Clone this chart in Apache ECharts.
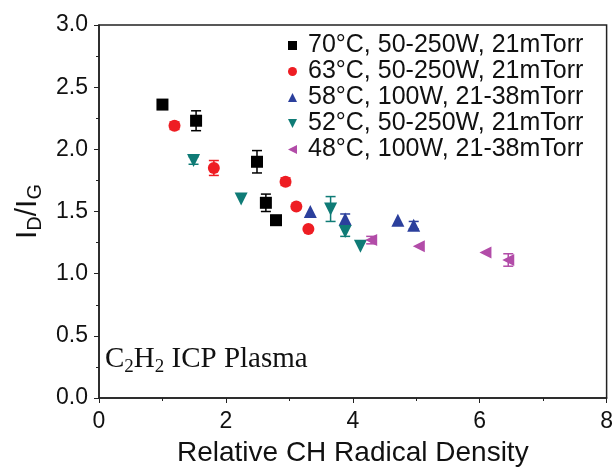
<!DOCTYPE html>
<html>
<head>
<meta charset="utf-8">
<script src="https://cdn.jsdelivr.net/npm/echarts@6/dist/echarts.min.js"></script>
<style>
  html, body { margin: 0; padding: 0; background: #fff; }
  #chart_density { width: 616px; height: 472px; }
</style>
</head>
<body>
<div id="chart_density"></div>
<script>
// series names (legend)
const seriesNames = [
  "70°C, 50-250W, 21mTorr",
  "63°C, 50-250W, 21mTorr",
  "58°C, 100W, 21-38mTorr",
  "52°C, 50-250W, 21mTorr",
  "48°C, 100W, 21-38mTorr",
];

// relative CH radical density (x), ID/IG (y), error (+/-)
const x70 = [1.0, 1.53, 2.49, 2.63, 2.79];
const y70 = [2.36, 2.23, 1.90, 1.57, 1.43];
const e70 = [0, 0.08, 0.09, 0.07, 0];

const x63 = [1.19, 1.81, 2.94, 3.11, 3.30];
const y63 = [2.19, 1.85, 1.74, 1.54, 1.36];
const e63 = [0.03, 0.06, 0.03, 0, 0];

const x58 = [3.33, 3.88, 4.71, 4.96];
const y58 = [1.50, 1.44, 1.43, 1.39];
const e58 = [0, 0.04, 0, 0.03];

const x52 = [1.49, 2.24, 3.65, 3.88, 4.12];
const y52 = [1.91, 1.60, 1.52, 1.34, 1.22];
const e52 = [0.03, 0, 0.1, 0.04, 0];

const x48 = [4.29, 5.04, 6.09, 6.45];
const y48 = [1.27, 1.22, 1.17, 1.11];
const e48 = [0.03, 0, 0, 0.05];

const colors = ["#000000", "#ee1d23", "#2b3f9c", "#0f7b76", "#b24ca8"];
const symbols = [
  "rect",
  "circle",
  "triangle",
  "path://M0,0 L10,0 L5,10 Z",
  "path://M10,0 L10,10 L0,5 Z",
];
const sizes = [12, 12, 13, 13, 12];

const groups = [
  [x70, y70, e70],
  [x63, y63, e63],
  [x58, y58, e58],
  [x52, y52, e52],
  [x48, y48, e48],
];

function getErrSeries(idx) {
  const [xs, ys, es] = groups[idx];
  const data = [];
  xs.forEach((x, i) => {
    if (es[i] > 0) data.push([x, ys[i] - es[i], ys[i] + es[i]]);
  });
  return {
    type: "custom",
    name: seriesNames[idx] + " err",
    z: 1,
    silent: true,
    data: data,
    renderItem: (params, api) => {
      const lo = api.coord([api.value(0), api.value(1)]);
      const hi = api.coord([api.value(0), api.value(2)]);
      const w = 5;
      const style = { stroke: colors[idx], lineWidth: 1.5 };
      return {
        type: "group",
        children: [
          { type: "line", shape: { x1: lo[0], y1: lo[1], x2: hi[0], y2: hi[1] }, style },
          { type: "line", shape: { x1: lo[0] - w, y1: lo[1], x2: lo[0] + w, y2: lo[1] }, style },
          { type: "line", shape: { x1: hi[0] - w, y1: hi[1], x2: hi[0] + w, y2: hi[1] }, style },
        ],
      };
    },
  };
}

function getScatterSeries(idx) {
  const [xs, ys] = groups[idx];
  return {
    type: "scatter",
    name: seriesNames[idx],
    z: 3,
    symbol: symbols[idx],
    symbolSize: sizes[idx],
    itemStyle: { color: colors[idx], opacity: 1 },
    data: xs.map((x, i) => [x, ys[i]]),
  };
}

const seriesArr = [];
seriesNames.forEach((n, i) => seriesArr.push(getErrSeries(i)));
seriesNames.forEach((n, i) => seriesArr.push(getScatterSeries(i)));

const axisFont = "Liberation Sans, Arial, sans-serif";

const option = {
  animation: false,
  color: colors,
  textStyle: { fontFamily: axisFont },
  grid: {
    left: 99,
    right: 6,
    top: 25,
    bottom: 66,
    show: true,
    borderColor: "#222",
    borderWidth: 1.5,
  },
  legend: {
    data: seriesNames,
    orient: "vertical",
    left: 283,
    top: 28,
    itemWidth: 9,
    itemHeight: 9,
    itemGap: 1,
    textStyle: { fontSize: 25, color: "#111", fontFamily: axisFont, padding: [0, 0, 0, 6] },
  },
  xAxis: {
    type: "value",
    min: 0,
    max: 8,
    interval: 2,
    name: "Relative CH Radical Density",
    nameLocation: "middle",
    nameGap: 41,
    nameTextStyle: { fontSize: 28, color: "#111" },
    axisLine: { lineStyle: { color: "#222", width: 1.5 } },
    axisTick: { length: 5, lineStyle: { color: "#222" } },
    minorTick: { show: true, splitNumber: 2, length: 3, lineStyle: { color: "#222" } },
    splitLine: { show: false },
    axisLabel: { fontSize: 23, color: "#111", margin: 12 },
  },
  yAxis: {
    type: "value",
    min: 0,
    max: 3,
    interval: 0.5,
    name: "{m|I}{s|D}{m|/I}{s|G}",
    nameLocation: "middle",
    nameRotate: 90,
    nameGap: 54,
    nameTextStyle: {
      color: "#111",
      rich: {
        m: { fontSize: 30, fontFamily: axisFont, color: "#111" },
        s: { fontSize: 20, fontFamily: axisFont, color: "#111", padding: [14, 0, 0, 0] },
      },
    },
    axisLine: { lineStyle: { color: "#222", width: 1.5 } },
    axisTick: { length: 5, lineStyle: { color: "#222" } },
    minorTick: { show: true, splitNumber: 2, length: 3, lineStyle: { color: "#222" } },
    splitLine: { show: false },
    axisLabel: {
      fontSize: 23,
      color: "#111",
      margin: 11,
      formatter: (v) => v.toFixed(1),
    },
  },
  graphic: [
    {
      type: "text",
      left: 105,
      top: 345,
      style: {
        text: "{m|C}{s|2}{m|H}{s|2}{m| ICP Plasma}",
        rich: {
          m: { fontSize: 29, fontFamily: "Liberation Serif, Times New Roman, serif", fill: "#111" },
          s: { fontSize: 19, fontFamily: "Liberation Serif, Times New Roman, serif", fill: "#111", padding: [16, 0, 0, 0] },
        },
      },
    },
  ],
  series: seriesArr,
};

const myChart = echarts.init(document.getElementById("chart_density"));
myChart.setOption(option);
window.addEventListener("resize", () => {
  myChart.resize();
});
</script>
</body>
</html>
